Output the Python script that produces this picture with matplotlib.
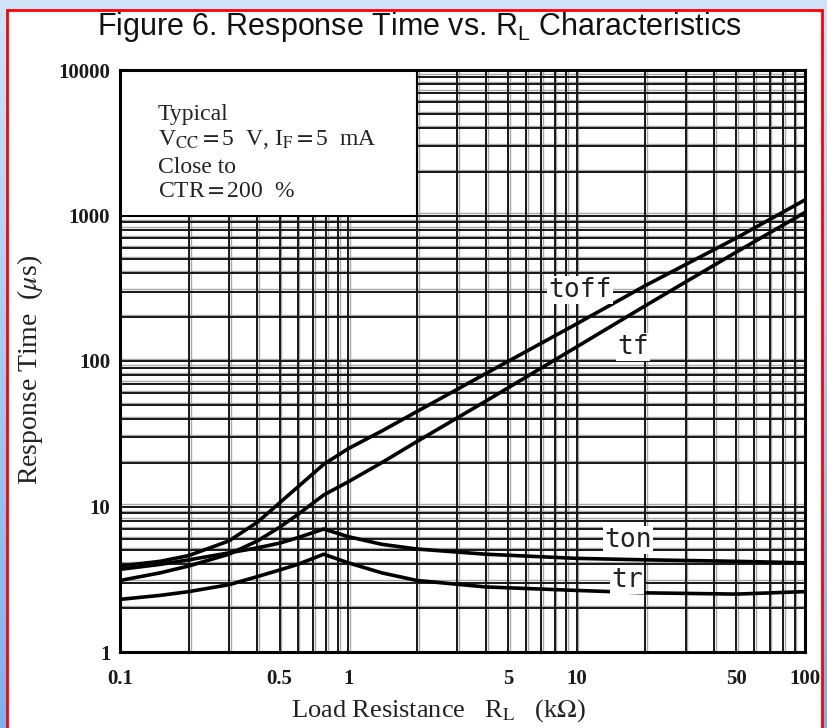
import numpy as np
import matplotlib
matplotlib.use("Agg")
import matplotlib.pyplot as plt
from matplotlib.patches import Rectangle
from matplotlib.ticker import LogLocator, NullFormatter
from matplotlib.colors import LinearSegmentedColormap

# Load resistance (kOhm) and response times (us)
rl = [0.1, 0.15, 0.2, 0.3, 0.4, 0.5, 0.6, 0.78, 1, 1.4, 2, 4, 10, 20, 50, 100]
t_off = [3.9, 4.2, 4.6, 5.8, 7.8, 10.6, 13.6, 19.5, 25, 33, 45, 82, 180, 330, 700, 1280]
t_f = [3.1, 3.5, 3.9, 4.7, 5.8, 7.2, 8.8, 12.0, 14.8, 20, 28, 53, 125, 240, 560, 1050]
t_on = [3.7, 4.0, 4.3, 4.8, 5.2, 5.6, 6.1, 7.0, 6.2, 5.5, 5.1, 4.7, 4.4, 4.3, 4.2, 4.1]
t_r = [2.3, 2.45, 2.6, 2.9, 3.3, 3.66, 4.0, 4.7, 4.1, 3.5, 3.1, 2.8, 2.65, 2.55, 2.5, 2.6]

x_ticks = [0.1, 0.5, 1, 5, 10, 50, 100]
x_tick_labels = ["0.1", "0.5", "1", "5", "10", "50", "100"]
y_ticks = [1, 10, 100, 1000, 10000]
y_tick_labels = ["1", "10", "100", "1000", "10000"]

curve_labels = ["toff", "tf", "ton", "tr"]
curve_label_pos = [(10.35, 307), (17.7, 125), (16.8, 5.9), (16.6, 3.13)]

conditions = ["Typical",
              r"V$_{\rm CC}$$=$5  V, I$_{\rm F}$$=$5  mA",
              "Close to",
              "CTR$=$200  %"]

W, H = 828, 728
fig = plt.figure(figsize=(W / 100, H / 100), dpi=100)

# blue page background with a soft vertical gradient
bg = fig.add_axes([0, 0, 1, 1], zorder=-10)
cmap = LinearSegmentedColormap.from_list("page", ["#cfe4f9", "#7fb0ee"])
bg.imshow(np.linspace(0, 1, 256).reshape(-1, 1), cmap=cmap, aspect="auto",
          extent=[0, 1, 0, 1], origin="upper")
bg.set_axis_off()

# white panel with red border
panel = Rectangle((7 / W, -0.05), (822 - 7) / W, (H - 10) / H + 0.05,
                  transform=fig.transFigure, facecolor="white",
                  edgecolor="#ff0000", linewidth=2, zorder=-5)
fig.patches.append(panel)

serif = "Liberation Serif"
sans = "Liberation Sans"
plt.rcParams["mathtext.fontset"] = "custom"
plt.rcParams["mathtext.rm"] = sans

ax = fig.add_axes([120 / W, 1 - 652 / H, (805 - 120) / W, (652 - 70) / H])
ax.set_xscale("log")
ax.set_yscale("log")
ax.set_xlim(0.1, 100)
ax.set_ylim(1, 10000)

ax.xaxis.set_minor_locator(LogLocator(base=10, subs=np.arange(2, 10), numticks=100))
ax.yaxis.set_minor_locator(LogLocator(base=10, subs=np.arange(2, 10), numticks=100))
ax.xaxis.set_minor_formatter(NullFormatter())
ax.yaxis.set_minor_formatter(NullFormatter())
ax.set_xticks(x_ticks, labels=x_tick_labels)
ax.set_yticks(y_ticks, labels=y_tick_labels)
ax.tick_params(which="both", length=0)
ax.tick_params(axis="x", pad=12)
ax.tick_params(axis="y", pad=7)
for lab in ax.get_xticklabels() + ax.get_yticklabels():
    lab.set_fontfamily(serif)
    lab.set_fontsize(15)
    lab.set_fontweight("bold")
    lab.set_color("#1a1a1a")

ax.set_axisbelow(True)
ax.grid(True, which="both", color="#161616", linewidth=1.4)

# printed log paper: every ruling carries a faint grey shadow line
xs = np.unique(np.concatenate([ax.xaxis.get_minorticklocs(), ax.get_xticks()]))
ys = np.unique(np.concatenate([ax.yaxis.get_minorticklocs(), ax.get_yticks()]))
xs = xs[(xs > 0.1) & (xs < 100)]
ys = ys[(ys > 1) & (ys < 10000)]
ax.vlines(xs * 1.018, 1, 10000, color="#a8a8a8", linewidth=1.0, zorder=0.4)
ax.hlines(ys * 1.035, 0.1, 100, color="#a8a8a8", linewidth=1.0, zorder=0.4)

for sp in ax.spines.values():
    sp.set_linewidth(2.2)
    sp.set_color("black")

# blank area holding the test conditions
ax.add_patch(Rectangle((0.1, 1000), 2 - 0.1, 10000 - 1000, facecolor="white",
                       edgecolor="black", linewidth=1.5, zorder=1.5))
for txt, yf in zip(conditions, [0.914, 0.871, 0.823, 0.782]):
    ax.text(0.0555, yf, txt, transform=ax.transAxes, fontsize=17,
            fontfamily=serif, math_fontfamily="stix", va="baseline",
            ha="left", color="#222222", zorder=4)

for series in [t_off, t_f, t_on, t_r]:
    ax.plot(rl, series, color="black", linewidth=2.6, zorder=3,
            solid_joinstyle="round")

for name, (lx, ly) in zip(curve_labels, curve_label_pos):
    ax.text(lx, ly, name, fontsize=19, fontfamily="DejaVu Sans Mono",
            ha="center", va="center", color="#222222", zorder=4,
            bbox=dict(facecolor="white", edgecolor="none", pad=1.0))

fig.text(419 / W, 1 - 27 / H,
         r"Figure 6. Response Time vs. R$_{\rm L}$ Characteristics",
         fontsize=22, fontfamily=sans, ha="center", va="center", color="#111111")

fig.text(30 / W, 1 - 370 / H, r"Response Time  ($\mu$s)", rotation=90,
         fontsize=20, fontfamily=serif, math_fontfamily="stix",
         ha="center", va="center", color="#222222")
fig.text(438 / W, 1 - 711 / H, r"Load Resistance   R$_{\rm L}$   (k$\Omega$)",
         fontsize=19, fontfamily=serif, math_fontfamily="stix",
         ha="center", va="center", color="#222222")

fig.savefig("out.png", dpi=100)
